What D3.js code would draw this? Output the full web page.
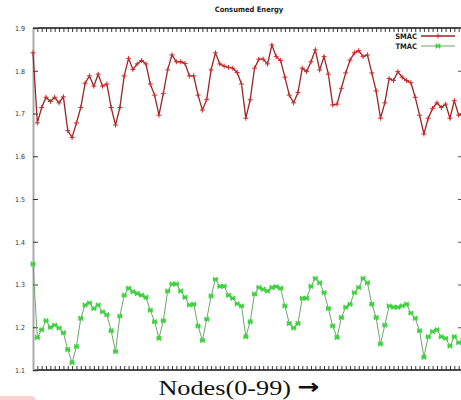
<!DOCTYPE html>
<html>
<head>
<meta charset="utf-8">
<script src="https://cdn.jsdelivr.net/npm/d3@7"></script>
<style>
  html, body { margin: 0; padding: 0; background: #fff; }
  svg { display: block; }
</style>
</head>
<body>
<div id="chart"></div>
<script>
// node index 0..99
const nodes = d3.range(100);

const smac = [1.842, 1.678, 1.714, 1.738, 1.728, 1.738, 1.725, 1.739, 1.660, 1.644,
  1.678, 1.714, 1.771, 1.788, 1.764, 1.792, 1.764, 1.769, 1.714, 1.673,
  1.714, 1.788, 1.829, 1.803, 1.816, 1.824, 1.816, 1.769, 1.743, 1.696,
  1.747, 1.802, 1.837, 1.821, 1.821, 1.817, 1.788, 1.788, 1.743, 1.708,
  1.733, 1.802, 1.842, 1.816, 1.811, 1.808, 1.806, 1.796, 1.769, 1.689,
  1.732, 1.806, 1.827, 1.827, 1.816, 1.860, 1.833, 1.824, 1.785, 1.743,
  1.725, 1.749, 1.806, 1.798, 1.821, 1.849, 1.802, 1.833, 1.792, 1.720,
  1.722, 1.759, 1.795, 1.825, 1.842, 1.847, 1.833, 1.837, 1.795, 1.753,
  1.689, 1.725, 1.782, 1.777, 1.798, 1.785, 1.777, 1.772, 1.738, 1.696,
  1.652, 1.689, 1.712, 1.725, 1.714, 1.722, 1.689, 1.730, 1.696, 1.700];

const tmac = [1.348, 1.176, 1.194, 1.215, 1.200, 1.205, 1.198, 1.187, 1.148, 1.117,
  1.155, 1.221, 1.252, 1.257, 1.244, 1.252, 1.236, 1.229, 1.192, 1.143,
  1.226, 1.275, 1.291, 1.283, 1.279, 1.275, 1.270, 1.240, 1.213, 1.174,
  1.215, 1.285, 1.301, 1.301, 1.285, 1.270, 1.252, 1.254, 1.203, 1.169,
  1.219, 1.273, 1.312, 1.296, 1.296, 1.275, 1.268, 1.255, 1.250, 1.178,
  1.213, 1.278, 1.293, 1.289, 1.285, 1.293, 1.295, 1.291, 1.250, 1.209,
  1.198, 1.209, 1.268, 1.268, 1.296, 1.314, 1.304, 1.281, 1.244, 1.203,
  1.176, 1.223, 1.247, 1.254, 1.281, 1.293, 1.314, 1.304, 1.254, 1.223,
  1.161, 1.205, 1.250, 1.247, 1.247, 1.250, 1.254, 1.233, 1.221, 1.192,
  1.130, 1.178, 1.190, 1.194, 1.178, 1.174, 1.156, 1.178, 1.164, 1.170];

const yTicks = [1.1, 1.2, 1.3, 1.4, 1.5, 1.6, 1.7, 1.8, 1.9];
const seriesNames = ["SMAC", "TMAC"];

const W = 461, H = 400;
const m = {left: 33, top: 28, right: 463, bottom: 370};

const svg = d3.select("#chart").append("svg")
  .attr("width", W).attr("height", H);

const x = d3.scaleLinear().domain([0, 99]).range([m.left, m.right]);
const y = d3.scaleLinear().domain([1.1, 1.9]).range([m.bottom, m.top]);

// frame
svg.append("line").attr("x1", m.left).attr("x2", m.right).attr("y1", m.top).attr("y2", m.top)
  .attr("stroke", "#111").attr("stroke-width", 1.5);
svg.append("line").attr("x1", m.left).attr("x2", m.right).attr("y1", m.bottom).attr("y2", m.bottom)
  .attr("stroke", "#111").attr("stroke-width", 1.5);

// x ticks, one per node, inward on top and bottom
svg.append("g").attr("transform", `translate(0,${m.bottom})`)
  .call(d3.axisBottom(x).tickValues(nodes).tickSize(-4).tickFormat(""))
  .call(g => g.select(".domain").remove())
  .call(g => g.selectAll(".tick line").attr("stroke", "#222").attr("stroke-width", 0.9));
svg.append("g").attr("transform", `translate(0,${m.top})`)
  .call(d3.axisTop(x).tickValues(nodes).tickSize(-4).tickFormat(""))
  .call(g => g.select(".domain").remove())
  .call(g => g.selectAll(".tick line").attr("stroke", "#222").attr("stroke-width", 0.9));

// left axis
svg.append("g").attr("transform", `translate(${m.left},0)`)
  .call(d3.axisLeft(y).tickValues(yTicks).tickSize(-5).tickPadding(8).tickFormat(d3.format(".1f")))
  .call(g => g.select(".domain").attr("stroke", "#aaa").attr("stroke-width", 2))
  .call(g => g.selectAll(".tick line").attr("stroke", "#333"))
  .call(g => g.selectAll(".tick text").attr("fill", "#333")
    .style("font-family", "'Liberation Sans Narrow', 'DejaVu Sans Condensed', sans-serif")
    .style("font-size", "7px"));

// right axis (mostly off the edge)
svg.append("g").attr("transform", `translate(${m.right},0)`)
  .call(d3.axisRight(y).tickValues(yTicks).tickSize(-5).tickFormat(""))
  .call(g => g.select(".domain").attr("stroke", "#333"))
  .call(g => g.selectAll(".tick line").attr("stroke", "#555"));

// title
svg.append("text").attr("x", 249).attr("y", 12).attr("text-anchor", "middle")
  .style("font-family", "'Liberation Sans Narrow', 'DejaVu Sans Condensed', sans-serif")
  .style("font-size", "7.5px").style("font-weight", "bold").attr("fill", "#222")
  .text("Consumed Energy");

const line = d3.line().x((d, i) => x(i)).y(d => y(d));

// SMAC
svg.append("path").datum(smac).attr("d", line)
  .attr("fill", "none").attr("stroke", "#9c2424").attr("stroke-width", 1.3);
svg.append("g").selectAll("path").data(smac).join("path")
  .attr("d", (d, i) => `M${x(i) - 2.5},${y(d)}h5M${x(i)},${y(d) - 2.5}v5`)
  .attr("stroke", "#d42a2a").attr("stroke-width", 1);

// TMAC
svg.append("path").datum(tmac).attr("d", line)
  .attr("fill", "none").attr("stroke", "#6aa86a").attr("stroke-width", 1);
svg.append("g").selectAll("path").data(tmac).join("path")
  .attr("d", (d, i) => {
    const cx = x(i), cy = y(d), r = 2.2;
    return `M${cx - r},${cy - r}L${cx + r},${cy + r}M${cx - r},${cy + r}L${cx + r},${cy - r}M${cx - 2.6},${cy}h5.2`;
  })
  .attr("stroke", "#3fd23f").attr("stroke-width", 1.5);

// legend
const legend = svg.append("g");
seriesNames.forEach((name, k) => {
  const ly = 36 + k * 10;
  legend.append("text").attr("x", 417).attr("y", ly + 3).attr("text-anchor", "end")
    .style("font-family", "'Liberation Sans Narrow', 'DejaVu Sans Condensed', sans-serif")
    .style("font-size", "7.5px").style("font-weight", "bold").attr("fill", "#222")
    .text(name);
  legend.append("line").attr("x1", 421).attr("x2", 455).attr("y1", ly).attr("y2", ly)
    .attr("stroke", k === 0 ? "#9c2424" : "#6aa86a").attr("stroke-width", k === 0 ? 1.3 : 1);
  const cx = 438;
  if (k === 0) {
    legend.append("path").attr("d", `M${cx - 2.5},${ly}h5M${cx},${ly - 2.5}v5`)
      .attr("stroke", "#d42a2a").attr("stroke-width", 1);
  } else {
    legend.append("path")
      .attr("d", `M${cx - 2.2},${ly - 2.2}L${cx + 2.2},${ly + 2.2}M${cx - 2.2},${ly + 2.2}L${cx + 2.2},${ly - 2.2}M${cx - 2.6},${ly}h5.2`)
      .attr("stroke", "#3fd23f").attr("stroke-width", 1.5);
  }
});

// x label (horizontally stretched like the reference)
const xlab = svg.append("text")
  .attr("transform", "translate(239,395) scale(1.25,1)")
  .attr("text-anchor", "middle").attr("fill", "#111");
xlab.append("tspan")
  .style("font-family", "'Liberation Serif', 'DejaVu Serif', serif")
  .style("font-size", "21px")
  .text("Nodes(0-99) ");
xlab.append("tspan")
  .style("font-family", "'DejaVu Sans', sans-serif")
  .style("font-size", "21px").style("font-weight", "bold")
  .attr("dy", -1)
  .text("\u2192");

// faint pink mark at bottom-left corner
svg.append("rect").attr("x", -6).attr("y", 396).attr("width", 42).attr("height", 10)
  .attr("rx", 5).attr("fill", "#fbd0d0");
</script>
</body>
</html>
